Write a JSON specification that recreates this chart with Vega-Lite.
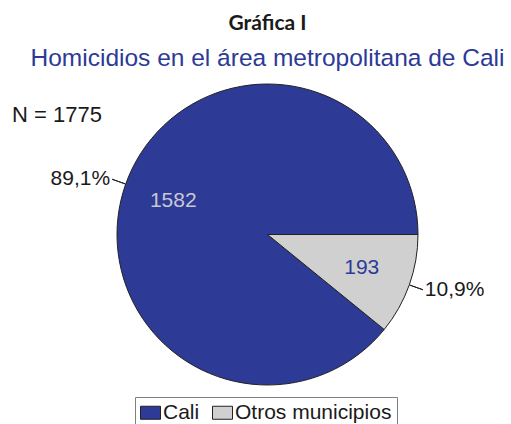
{
  "$schema": "https://vega.github.io/schema/vega-lite/v6.json",
  "autosize": "none",
  "width": 301,
  "height": 301,
  "padding": {"left": 117, "top": 84, "right": 93, "bottom": 39},
  "background": "white",
  "title": {
    "text": "Gráfica I",
    "subtitle": "Homicidios en el área metropolitana de Cali",
    "font": "Lato",
    "fontWeight": "bold",
    "fontSize": 21,
    "color": "#1a1a1a",
    "subtitleFont": "Liberation Sans",
    "subtitleFontSize": 24.5,
    "subtitleColor": "#2d3a96",
    "subtitlePadding": 13,
    "offset": 12,
    "anchor": "middle",
    "frame": "group"
  },
  "data": {
    "values": [
      {"categoria": "Cali", "n": 1582, "pct": "89,1%"},
      {"categoria": "Otros municipios", "n": 193, "pct": "10,9%"}
    ]
  },
  "layer": [
    {
      "mark": {"type": "arc", "stroke": "#222222", "strokeWidth": 1},
      "encoding": {
        "theta": {"field": "n", "type": "quantitative", "stack": true, "scale": {"range": [1.5707963, 7.8539816]}},
        "order": {"field": "categoria", "sort": "descending"},
        "color": {
          "field": "categoria",
          "type": "nominal",
          "scale": {"domain": ["Cali", "Otros municipios"], "range": ["#2d3a96", "#d0d0d0"]},
          "legend": {
            "title": null,
            "orient": "none",
            "legendX": 18,
            "legendY": 313,
            "direction": "horizontal",
            "strokeColor": "#808080",
            "padding": 5,
            "symbolType": "M-1,-0.65H1V0.65H-1Z",
            "symbolSize": 400,
            "symbolStrokeColor": "#222222",
            "symbolStrokeWidth": 1,
            "symbolOpacity": 1,
            "labelFont": "Liberation Sans",
            "labelFontSize": 21,
            "labelColor": "#1a1a1a",
            "labelOffset": 2,
            "columnPadding": 10
          }
        }
      }
    },
    {
      "transform": [
        {"stack": "n", "groupby": [], "sort": [{"field": "categoria", "order": "descending"}], "as": ["s0", "s1"]},
        {"fold": ["s0", "s1"], "as": ["k", "v"]},
        {"aggregate": [{"op": "mean", "field": "v", "as": "mid"}], "groupby": ["categoria"]}
      ],
      "mark": {"type": "arc", "stroke": "#222222", "strokeWidth": 1, "fill": null},
      "encoding": {
        "theta": {"field": "mid", "type": "quantitative", "stack": null},
        "theta2": {"field": "mid"},
        "radius": {"value": 165},
        "radius2": {"value": 151}
      }
    },
    {
      "mark": {"type": "text", "radius": 100, "font": "Liberation Sans", "fontSize": 21, "align": "center", "baseline": "middle"},
      "encoding": {
        "theta": {"field": "n", "type": "quantitative", "stack": true},
        "order": {"field": "categoria", "sort": "descending"},
        "detail": {"field": "categoria"},
        "text": {"field": "n", "type": "quantitative", "format": "d"},
        "color": {"condition": {"test": "datum.categoria === 'Cali'", "value": "#c8c8d2"}, "value": "#2d3a96"}
      }
    },
    {
      "mark": {"type": "text", "radius": 167, "font": "Liberation Sans", "fontSize": 21, "align": "right", "baseline": "middle", "color": "#1a1a1a"},
      "encoding": {
        "theta": {"field": "n", "type": "quantitative", "stack": true},
        "order": {"field": "categoria", "sort": "descending"},
        "detail": {"field": "categoria"},
        "text": {"condition": {"test": "datum.categoria === 'Cali'", "field": "pct"}, "value": ""}
      }
    },
    {
      "mark": {"type": "text", "radius": 167, "font": "Liberation Sans", "fontSize": 21, "align": "left", "baseline": "middle", "color": "#1a1a1a"},
      "encoding": {
        "theta": {"field": "n", "type": "quantitative", "stack": true},
        "order": {"field": "categoria", "sort": "descending"},
        "detail": {"field": "categoria"},
        "text": {"condition": {"test": "datum.categoria === 'Otros municipios'", "field": "pct"}, "value": ""}
      }
    },
    {
      "data": {"values": [{"etiqueta": "N = 1775"}]},
      "mark": {"type": "text", "x": -105, "y": 31, "font": "Liberation Sans", "fontSize": 22, "align": "left", "baseline": "middle", "color": "#1a1a1a"},
      "encoding": {
        "text": {"field": "etiqueta"}
      }
    }
  ],
  "config": {
    "view": {"stroke": null}
  }
}
